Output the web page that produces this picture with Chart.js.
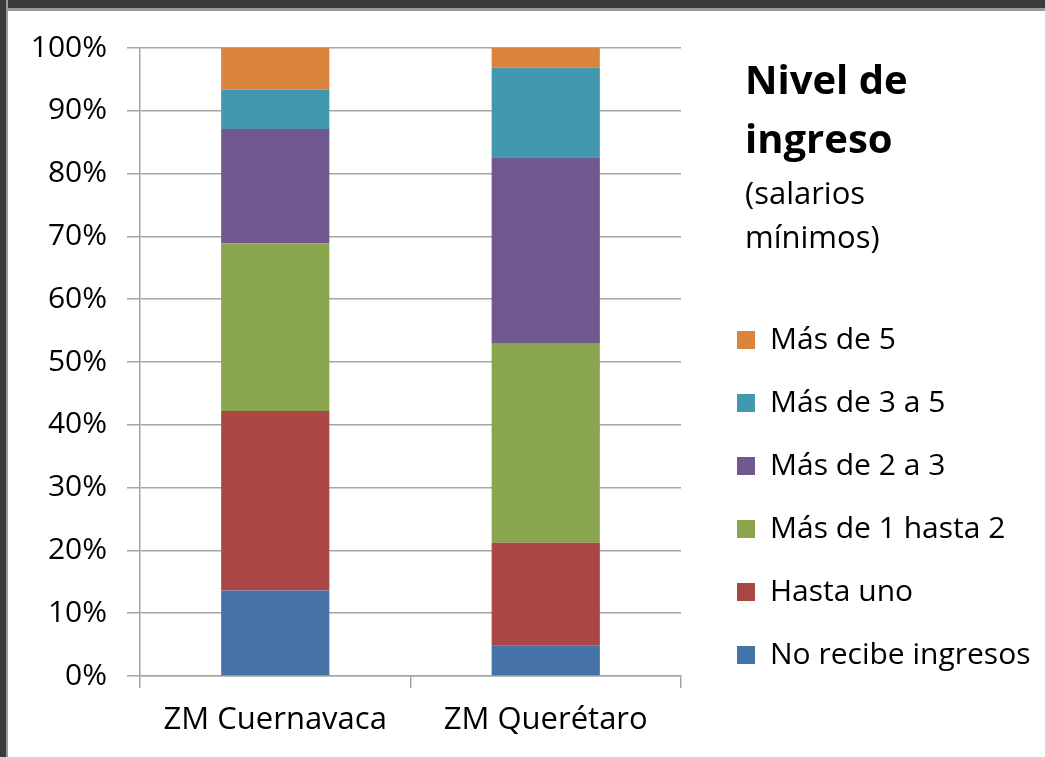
<!DOCTYPE html>
<html>
<head>
<meta charset="utf-8">
<script src="https://cdn.jsdelivr.net/npm/chart.js@4"></script>
<style>
  * { box-sizing: border-box; }
  html, body { margin: 0; padding: 0; background: #fff; }
  .wrap { position: relative; width: 1045px; height: 757px; overflow: hidden; }
  canvas { position: absolute; left: 0; top: 0; }
  .frame-top { position: absolute; left: 0; top: 0; width: 1045px; height: 11px; background: #3b3b3b; border-bottom: 3px solid #9a9a9a; }
  .frame-left { position: absolute; left: 0; top: 0; width: 8px; height: 757px; background: #3b3b3b; border-right: 2px solid #9a9a9a; }
  .head { position: absolute; left: 745px; font-family: "Open Sans", sans-serif; color: #000; white-space: nowrap; }
  .h1 { font-size: 40px; font-weight: bold; line-height: 60px; }
  .h2 { font-size: 31px; line-height: 42px; }
</style>
</head>
<body>
<div class="wrap">
  <canvas id="myChart" width="1045" height="757"></canvas>
  <div class="head h1" style="top:49px">Nivel de</div>
  <div class="head h1" style="top:108px">ingreso</div>
  <div class="head h2" style="top:171px">(salarios</div>
  <div class="head h2" style="top:215px">mínimos)</div>
  <div class="frame-top"></div>
  <div class="frame-left"></div>
</div>
<script>
const categories = ['ZM Cuernavaca', 'ZM Querétaro'];
const seriesNames = ['No recibe ingresos', 'Hasta uno', 'Más de 1 hasta 2', 'Más de 2 a 3', 'Más de 3 a 5', 'Más de 5'];
const noRecibe = [13.6, 4.8];
const hastaUno = [28.6, 16.4];
const de1a2 = [26.7, 31.7];
const de2a3 = [18.2, 29.7];
const de3a5 = [6.3, 14.3];
const masDe5 = [6.6, 3.1];
const yTicks = [0, 10, 20, 30, 40, 50, 60, 70, 80, 90, 100];

const colors = ['#4572a7', '#aa4643', '#89a54e', '#71588f', '#4198af', '#db843d'];
const values = [noRecibe, hastaUno, de1a2, de2a3, de3a5, masDe5];

const font = { family: '"Open Sans", sans-serif', size: 30 };

// make the legend as wide as the space right of the plot
const legendWidth = {
  id: 'legendWidth',
  beforeInit(chart) {
    const fit = chart.legend.fit;
    chart.legend.fit = function () {
      fit.call(this);
      this.width = 341;
    };
  }
};

const ctx = document.getElementById('myChart').getContext('2d');
new Chart(ctx, {
  type: 'bar',
  data: {
    labels: categories,
    datasets: seriesNames.map((name, i) => ({
      label: name,
      data: values[i],
      backgroundColor: colors[i],
      borderWidth: 0,
      barPercentage: 0.4,
      categoryPercentage: 1
    }))
  },
  options: {
    responsive: false,
    animation: false,
    layout: { padding: { top: 48, left: 30, right: 0, bottom: 11 } },
    scales: {
      x: {
        stacked: true,
        afterFit: s => { s.height = 70; },
        grid: { drawOnChartArea: false, color: '#a5a5a5', lineWidth: 1.5, tickLength: 12 },
        border: { color: '#a5a5a5', width: 1.5 },
        ticks: { color: '#000', font: { ...font, size: 31 }, padding: 14 }
      },
      y: {
        stacked: true,
        min: 0,
        max: 100,
        afterFit: s => { s.width = 110; },
        afterBuildTicks: s => { s.ticks = yTicks.map(v => ({ value: v })); },
        grid: { color: '#a5a5a5', lineWidth: 1.5, tickLength: 13 },
        border: { color: '#a5a5a5', width: 1.5 },
        ticks: { color: '#000', font: { ...font, size: 30 }, padding: 20, callback: v => v + '%' }
      },
      y2: {
        position: 'right',
        min: 0,
        max: 100,
        afterFit: s => { s.width = 23; },
        grid: { display: false },
        border: { display: false },
        ticks: { display: false }
      }
    },
    plugins: {
      tooltip: { enabled: false },
      legend: {
        position: 'right',
        align: 'start',
        reverse: true,
        title: { display: true, text: ' ', font: { size: 10 }, padding: { top: 0, bottom: 232 } },
        labels: { color: '#000', font: font, boxWidth: 18, boxHeight: 18, padding: 33 }
      }
    }
  },
  plugins: [legendWidth]
});
</script>
</body>
</html>
